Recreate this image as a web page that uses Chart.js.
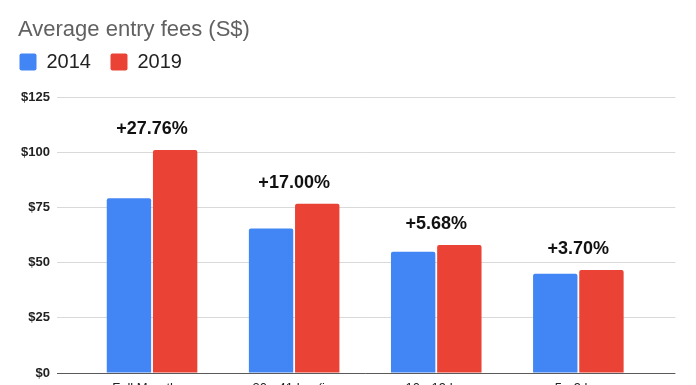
<!DOCTYPE html>
<html>
<head>
<meta charset="utf-8">
<script src="https://cdn.jsdelivr.net/npm/chart.js@4"></script>
<style>
  html, body { margin: 0; padding: 0; width: 696px; height: 385px; overflow: hidden; background: #fff; }
  #wrap { position: relative; width: 696px; height: 400px; }
  #title { position: absolute; left: 18px; top: 16px; font: 22px "Liberation Sans", Arial, sans-serif; line-height: 26px; color: #616161; white-space: nowrap; }
  canvas { display: block; }
</style>
</head>
<body>
<div id="wrap">
  <canvas id="c" width="696" height="400"></canvas>
  <div id="title">Average entry fees (S$)</div>
</div>
<script>
const categories = ["Full Marathon", "30 - 41 km (i...", "10 - 19 km", "5 - 9 km"];
const fees2014 = [79.1, 65.5, 54.9, 45.0];
const fees2019 = [101.0, 76.6, 58.0, 46.7];
const changeLabels = ["+27.76%", "+17.00%", "+5.68%", "+3.70%"];
const yTicks = [0, 25, 50, 75, 100, 125];

const FONT = '"Liberation Sans", Arial, sans-serif';

const gridColor = (ctx) => (ctx.tick && ctx.tick.value === 0) ? '#5a5a5a' : '#d9d9d9';

const legendSpacer = {
  id: 'legendSpacer',
  beforeInit(chart) {
    const orig = chart.legend.fit;
    chart.legend.fit = function () {
      orig.call(this);
      this.height += 15;
    };
  }
};

const changeLabelPlugin = {
  id: 'changeLabels',
  afterDatasetsDraw(chart) {
    const { ctx, scales } = chart;
    ctx.save();
    ctx.font = 'bold 18px ' + FONT;
    ctx.fillStyle = '#111';
    ctx.textAlign = 'center';
    ctx.textBaseline = 'middle';
    categories.forEach((c, i) => {
      const x = scales.x.getPixelForValue(i);
      const y = scales.y.getPixelForValue(Math.max(fees2014[i], fees2019[i])) - 21;
      ctx.fillText(changeLabels[i], x, y);
    });
    ctx.restore();
  }
};

new Chart(document.getElementById('c'), {
  type: 'bar',
  data: {
    labels: categories,
    datasets: [
      { label: '2014', data: fees2014, backgroundColor: '#4285F4', borderWidth: 0, borderRadius: 2,
        categoryPercentage: 0.65, barPercentage: 0.961 },
      { label: '2019', data: fees2019, backgroundColor: '#EA4335', borderWidth: 0, borderRadius: 2,
        categoryPercentage: 0.65, barPercentage: 0.961 }
    ]
  },
  options: {
    responsive: false,
    animation: false,
    devicePixelRatio: 1,
    layout: { padding: { top: 32.5, right: 21, bottom: 0, left: 0 } },
    plugins: {
      title: { display: false },
      tooltip: { enabled: false },
      legend: {
        display: true,
        position: 'top',
        align: 'start',
        labels: {
          boxWidth: 17, boxHeight: 17, padding: 19.5,
          useBorderRadius: true, borderRadius: 2,
          color: '#222',
          font: { family: FONT, size: 20 }
        }
      }
    },
    scales: {
      x: {
        grid: { display: false, drawTicks: false },
        border: { display: false },
        ticks: { color: '#222', font: { family: FONT, size: 13 }, padding: 8, maxRotation: 0, autoSkip: false },
        afterFit(scale) { scale.height = 27; }
      },
      y: {
        position: 'left',
        min: 0, max: 125,
        afterBuildTicks(scale) { scale.ticks = yTicks.map(v => ({ value: v })); },
        grid: { color: gridColor, tickColor: gridColor, lineWidth: 1, tickLength: 24, drawTicks: true },
        border: { display: false },
        ticks: { color: '#222', font: { family: FONT, size: 13, weight: 'bold' }, padding: 7,
                 callback: (v) => '$' + v },
        afterFit(scale) { scale.width = 81; }
      },
      y2: {
        position: 'right',
        min: 0, max: 125,
        afterBuildTicks(scale) { scale.ticks = yTicks.map(v => ({ value: v })); },
        grid: { color: gridColor, tickColor: gridColor, lineWidth: 1, tickLength: 26, drawTicks: true, drawOnChartArea: false },
        border: { display: false },
        ticks: { display: false },
        afterFit(scale) { scale.width = 25.6; }
      }
    }
  },
  plugins: [legendSpacer, changeLabelPlugin]
});
</script>
</body>
</html>
